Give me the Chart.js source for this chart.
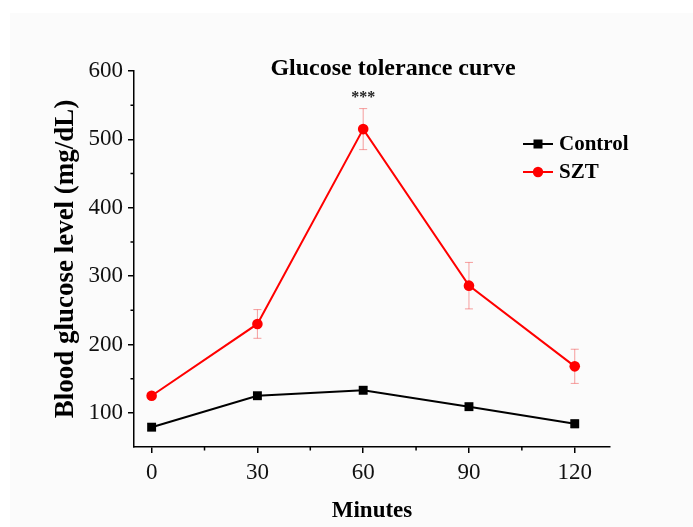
<!DOCTYPE html>
<html>
<head>
<meta charset="utf-8">
<script src="https://cdn.jsdelivr.net/npm/chart.js@4.4.0/dist/chart.umd.min.js"></script>
<style>
  html, body { margin: 0; padding: 0; background: #fff; }
  #wrap { width: 693px; height: 527px; }
</style>
</head>
<body>
<div id="wrap"><canvas id="chart-line"></canvas></div>
<script>
var minutes = [0, 30, 60, 90, 120];
var control_values = [79, 125, 133, 109, 84];
var control_errors = [5, 4, 5, 4, 6];
var szt_values = [125, 230, 515, 286, 168];
var szt_errors = [4, 21, 30, 34, 25];
var x_ticks = [0, 30, 60, 90, 120];
var x_minor = [15, 45, 75, 105];
var y_ticks = [100, 200, 300, 400, 500, 600];
var y_minor = [150, 250, 350, 450, 550];
var stars_at = 2; // index of the point marked ***

var serif = "'Liberation Serif', 'Times New Roman', serif";

function to_points(values){
  return values.map(function(v, i){ return {x: minutes[i], y: v}; });
}

// faint grey sheet behind the figure
var background = {
  id: 'background',
  beforeDraw: function(chart){
    var ctx = chart.ctx;
    ctx.save();
    ctx.fillStyle = '#ffffff';
    ctx.fillRect(0, 0, chart.width, chart.height);
    ctx.fillStyle = '#fbfbfb';
    ctx.fillRect(10, 13, chart.width - 10, chart.height - 13);
    ctx.restore();
  }
};

// vertical error bars from the *_errors arrays
var error_bars = {
  id: 'error_bars',
  beforeDatasetsDraw: function(chart){
    var ctx = chart.ctx;
    var y = chart.scales.y;
    chart.data.datasets.forEach(function(ds, di){
      var meta = chart.getDatasetMeta(di);
      ctx.save();
      ctx.strokeStyle = ds.errorColor;
      ctx.lineWidth = 1;
      meta.data.forEach(function(pt, i){
        var v = ds.data[i].y, e = ds.errors[i];
        var top = y.getPixelForValue(v + e), bot = y.getPixelForValue(v - e);
        ctx.beginPath();
        ctx.moveTo(pt.x, top); ctx.lineTo(pt.x, bot);
        ctx.moveTo(pt.x - 4, top); ctx.lineTo(pt.x + 4, top);
        ctx.moveTo(pt.x - 4, bot); ctx.lineTo(pt.x + 4, bot);
        ctx.stroke();
      });
      ctx.restore();
    });
  }
};

// minor ticks, title, stars and legend
var extras = {
  id: 'extras',
  afterDraw: function(chart){
    var ctx = chart.ctx;
    var xs = chart.scales.x, ys = chart.scales.y;
    var area = chart.chartArea;
    ctx.save();
    ctx.strokeStyle = '#000';
    ctx.lineWidth = 1.5;
    ctx.beginPath();
    y_minor.forEach(function(v){
      var p = ys.getPixelForValue(v);
      ctx.moveTo(area.left, p); ctx.lineTo(area.left - 3.5, p);
    });
    x_minor.forEach(function(v){
      var p = xs.getPixelForValue(v);
      ctx.moveTo(p, area.bottom); ctx.lineTo(p, area.bottom + 3.5);
    });
    ctx.stroke();

    ctx.fillStyle = '#000';
    ctx.textAlign = 'center';
    ctx.textBaseline = 'middle';
    ctx.font = 'bold 24px ' + serif;
    ctx.fillText('Glucose tolerance curve', area.left + 259, area.top - 2);

    ctx.font = 'bold 16px ' + serif;
    ctx.fillStyle = '#222';
    var sx = xs.getPixelForValue(minutes[stars_at]);
    var sy = ys.getPixelForValue(szt_values[stars_at] + szt_errors[stars_at]) - 11;
    ctx.fillText('***', sx, sy);

    // legend
    ctx.textAlign = 'left';
    ctx.font = 'bold 21px ' + serif;
    chart.data.datasets.forEach(function(ds, i){
      var ly = area.top + 73 + i * 28;
      var lx = area.left + 389;
      ctx.strokeStyle = ds.borderColor;
      ctx.lineWidth = 2;
      ctx.beginPath();
      ctx.moveTo(lx, ly); ctx.lineTo(lx + 30, ly);
      ctx.stroke();
      ctx.fillStyle = ds.borderColor;
      if (ds.pointStyle === 'rect') {
        ctx.fillRect(lx + 10.5, ly - 4.5, 9, 9);
      } else {
        ctx.beginPath();
        ctx.arc(lx + 15, ly, 5.2, 0, Math.PI * 2);
        ctx.fill();
      }
      ctx.fillStyle = '#000';
      ctx.fillText(ds.label, lx + 36, ly + 1);
    });
    ctx.restore();
  }
};

var ctx = document.getElementById('chart-line').getContext('2d');

new Chart(ctx, {
  type: 'line',
  data: {
    datasets: [{
        label: 'Control',
        data: to_points(control_values),
        errors: control_errors,
        errorColor: 'rgba(90,90,90,0.7)',
        borderColor: '#000000',
        backgroundColor: '#000000',
        borderWidth: 2,
        pointStyle: 'rect',
        pointRadius: 6.3,
        pointBorderWidth: 0,
        tension: 0
      },
      {
        label: 'SZT',
        data: to_points(szt_values),
        errors: szt_errors,
        errorColor: 'rgba(240,80,80,0.55)',
        borderColor: '#ff0000',
        backgroundColor: '#ff0000',
        borderWidth: 2,
        pointStyle: 'circle',
        pointRadius: 5.3,
        pointBorderWidth: 0,
        tension: 0
      }
    ]
  },
  options: {
    responsive: true,
    maintainAspectRatio: false,
    animation: false,
    layout: {
      padding: {left: 50, right: 83, top: 71, bottom: 2}
    },
    plugins: {
      legend: { display: false },
      tooltip: { enabled: false }
    },
    scales: {
      x: {
        type: 'linear',
        min: -5,
        max: 130,
        afterBuildTicks: function(scale){
          scale.ticks = x_ticks.map(function(v){ return {value: v}; });
        },
        afterFit: function(scale){ scale.height = 78; },
        grid: {
          display: true,
          drawOnChartArea: false,
          drawTicks: true,
          tickLength: 6,
          color: '#000',
          lineWidth: 1.5
        },
        border: { display: true, color: '#000', width: 1.5 },
        ticks: {
          padding: 6,
          color: '#111',
          font: { size: 23, family: serif }
        },
        title: {
          display: true,
          text: 'Minutes',
          color: '#000',
          padding: 0,
          font: { size: 23, weight: 'bold', family: serif }
        }
      },
      y: {
        min: 50,
        max: 600,
        afterBuildTicks: function(scale){
          scale.ticks = y_ticks.map(function(v){ return {value: v}; });
        },
        afterFit: function(scale){ scale.width = 84; },
        grid: {
          display: true,
          drawOnChartArea: false,
          drawTicks: true,
          tickLength: 6,
          color: '#000',
          lineWidth: 1.5
        },
        border: { display: true, color: '#000', width: 1.5 },
        ticks: {
          padding: 5,
          color: '#111',
          font: { size: 23, family: serif }
        },
        title: {
          display: true,
          text: 'Blood glucose level (mg/dL)',
          color: '#000',
          padding: 0,
          font: { size: 27, weight: 'bold', family: serif }
        }
      }
    }
  },
  plugins: [background, error_bars, extras]
});
</script>
</body>
</html>
